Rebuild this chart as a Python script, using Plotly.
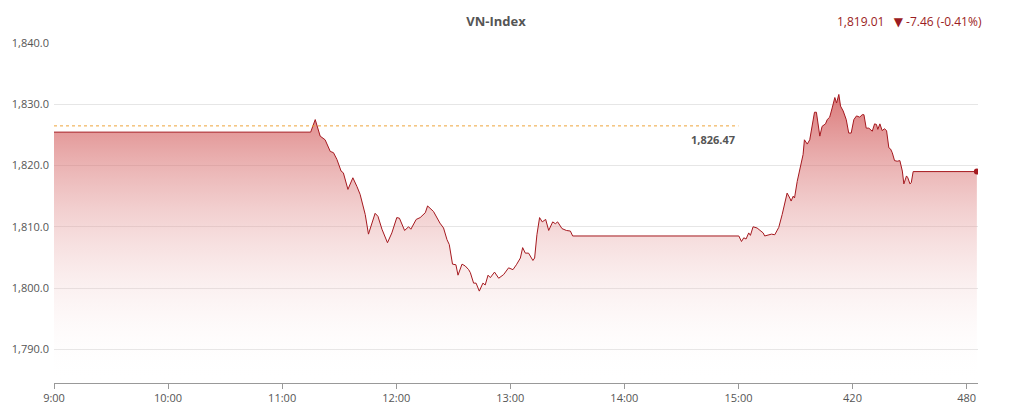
import plotly.graph_objects as go

# minutes after 9:00 and index level
minutes = [0, 135, 137.4, 140, 142.6, 145.3, 147, 148.8, 151, 152.2, 154.6, 157.2, 159.3, 161,
           163.7, 165.4, 168.9, 170.4, 172.5, 175.4, 177.7, 180.3, 181.7, 184.4, 186.5, 187.7,
           190.5, 192.6, 195.3, 196.5, 199.6, 203, 204.9, 206.7, 207.9, 209.6, 211.4, 212.5,
           214.6, 216.3, 218.1, 219, 220.7, 222, 223.7, 225.6, 226.8, 228.3, 229.5, 231.7,
           233.9, 236.5, 239.1, 241.4, 243.2, 245.3, 246.5, 247.9, 249.6, 251.9, 252.8, 254,
           255.4, 256.8, 258.6, 260.2, 262.3, 263.7, 264.9, 267.2, 269.5, 271.6, 272.8, 360.2,
           361.6, 362.8, 364, 365.4, 366.3, 367.7, 369.8, 371.6, 373, 373.8, 375.9, 377.4,
           379.1, 381.2, 383, 384.7, 385.6, 387, 387.7, 388.8, 389.5, 390.9, 392.6, 394,
           394.7, 396.2, 397.5, 398.8, 400, 401, 402.3, 402.8, 404, 405.8, 406.7, 408, 409.3,
           410.7, 411.6, 412.8, 413.7, 415.1, 416.7, 418, 419.3, 420.7, 422.1, 423.8, 425.1,
           426, 427.2, 428.6, 430.4, 431.6, 432.6, 433.3, 434.4, 435.6, 436.8, 437.9, 439.1,
           440, 440.9, 442.1, 443.5, 444.9, 446.2, 447, 448.4, 449.1, 450.2, 450.9, 451.9,
           485.4]
index_values = [1825.45, 1825.45, 1827.5, 1824.8, 1824.2, 1822.3, 1822.1, 1821.0, 1819.1, 1818.8,
                1816.1, 1818.0, 1816.6, 1815.3, 1812.0, 1808.8, 1812.2, 1811.7, 1809.6, 1807.4,
                1809.0, 1811.5, 1811.4, 1809.4, 1810.0, 1809.6, 1811.2, 1811.5, 1812.3, 1813.4,
                1812.5, 1810.6, 1809.8, 1807.9, 1807.1, 1803.9, 1803.8, 1802.1, 1803.9, 1803.6,
                1803.0, 1802.5, 1800.8, 1800.8, 1799.5, 1800.8, 1800.5, 1802.1, 1801.7, 1802.6,
                1801.6, 1802.2, 1803.3, 1803.0, 1803.8, 1804.9, 1806.6, 1805.7, 1805.7, 1804.5,
                1804.9, 1808.7, 1811.5, 1810.8, 1811.2, 1809.4, 1810.8, 1810.5, 1810.8, 1809.7,
                1809.4, 1809.3, 1808.5, 1808.5, 1807.6, 1808.2, 1808.0, 1809.0, 1808.6, 1810.0,
                1809.8, 1809.4, 1809.0, 1808.5, 1808.7, 1808.8, 1808.7, 1809.9, 1812.0, 1814.2,
                1815.5, 1814.7, 1814.2, 1815.0, 1814.7, 1817.4, 1819.9, 1821.8, 1824.2, 1823.5,
                1824.2, 1826.4, 1828.7, 1828.7, 1826.1, 1824.8, 1826.4, 1826.8, 1827.5, 1827.9,
                1829.4, 1831.1, 1830.2, 1831.6, 1829.7, 1828.9, 1827.5, 1825.3, 1825.3, 1827.5,
                1828.1, 1827.9, 1828.3, 1828.3, 1826.1, 1826.1, 1825.6, 1826.8, 1826.7, 1825.9,
                1826.8, 1825.7, 1826.0, 1825.7, 1822.9, 1822.7, 1822.1, 1820.8, 1820.7, 1820.8,
                1819.1, 1817.0, 1818.3, 1818.0, 1817.0, 1817.2, 1819.01, 1819.01]

ref_level = 1826.47
ref_span = [0, 360]
last_value = 1819.01
change = -7.46
change_pct = -0.41

tick_minutes = [0, 60, 120, 180, 240, 300, 360, 420, 480]
tick_labels = ["9:00", "10:00", "11:00", "12:00", "13:00", "14:00", "15:00", "420", "480"]
y_ticks = [1790, 1800, 1810, 1820, 1830, 1840]

Y_MIN, Y_MAX = 1784.5, 1840
FONT = "Open Sans, DejaVu Sans, sans-serif"
RED = "#a5191f"

fig = go.Figure()

# price line with vertical gradient fill
fig.add_trace(go.Scatter(
    x=minutes, y=index_values, mode="lines",
    line=dict(color=RED, width=1),
    fill="tozeroy",
    fillgradient=dict(type="vertical", start=Y_MIN, stop=max(index_values),
                      colorscale=[[0, "rgba(255,255,255,0)"],
                                  [1, "rgba(205,70,70,0.72)"]]),
    hoverinfo="skip", showlegend=False,
))

# last point marker
fig.add_trace(go.Scatter(
    x=[minutes[-1]], y=[index_values[-1]], mode="markers",
    marker=dict(color=RED, size=6),
    hoverinfo="skip", showlegend=False,
))

# reference (previous close) line
fig.add_trace(go.Scatter(
    x=ref_span, y=[ref_level, ref_level], mode="lines",
    line=dict(color="#eea43a", width=1, dash="dot"),
    hoverinfo="skip", showlegend=False,
))

fig.add_annotation(
    x=ref_span[1], y=ref_level, xref="x", yref="y",
    text=f"<b>{ref_level:,.2f}</b>", showarrow=False,
    xanchor="right", yanchor="top", xshift=-1, yshift=-4,
    font=dict(family=FONT, size=11, color="#555555"),
)

sign = "▼" if change < 0 else "▲"
fig.add_annotation(
    x=1.0065, y=1.0647, xref="paper", yref="paper",
    xanchor="right", yanchor="middle",
    text=f"{last_value:,.2f}   {sign} {change:.2f} ({change_pct:.2f}%)",
    showarrow=False, font=dict(family=FONT, size=12, color="#9b1c22"),
)

fig.update_layout(
    width=1011, height=416, autosize=False,
    paper_bgcolor="white", plot_bgcolor="white",
    margin=dict(l=46, r=41, t=35, b=41),
    title=dict(text="<b>VN-Index</b>", x=0.4827, xanchor="center",
               y=0.9688, yanchor="middle",
               font=dict(family=FONT, size=13, color="#555555")),
    font=dict(family=FONT, size=11, color="#555555"),
    xaxis=dict(range=[0, 486], tickvals=tick_minutes, ticktext=tick_labels,
               showgrid=False, zeroline=False, showline=True, linecolor="#999999",
               linewidth=1, ticks="outside", ticklen=5, tickcolor="#999999",
               automargin=False, tickfont=dict(size=11, color="#555555")),
    yaxis=dict(range=[Y_MIN, Y_MAX], tickvals=y_ticks, tickformat=",.1f",
               showgrid=True, gridcolor="#e6e6e6", gridwidth=1, zeroline=False,
               showline=False, ticks="", ticklabelstandoff=4, automargin=False,
               tickfont=dict(size=11, color="#555555")),
)

fig.write_html("out.html")
